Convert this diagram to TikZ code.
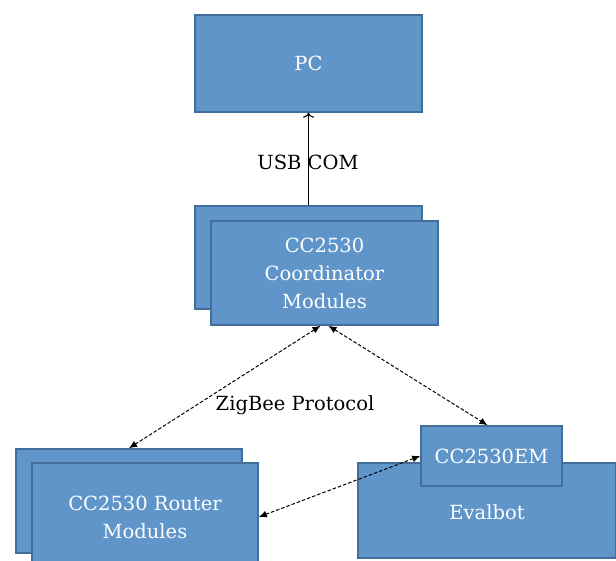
\documentclass[tikz,border=0pt]{standalone}
\usepackage{fontspec}
\setmainfont{DejaVu Serif}
\usepackage{xcolor}
\usepackage{tikz}
\usetikzlibrary{arrows.meta}

\definecolor{boxfill}{RGB}{95,149,201}
\definecolor{boxline}{RGB}{65,110,155}

\tikzset{
  modbox/.style={draw=boxline, fill=boxfill, line width=1.6pt, text=white,
    align=center, inner sep=0pt, font=\fontsize{19.5}{28}\selectfont},
  zblink/.style={{Latex[length=8pt,width=7pt]}-{Latex[length=8pt,width=7pt]},
    dash pattern=on 3.5pt off 2pt, line width=1pt},
  lbl/.style={font=\fontsize{19.5}{26}\selectfont}
}

\begin{document}
\begin{tikzpicture}[x=1pt,y=-1pt]
\useasboundingbox (0,0) rectangle (616,561);
\clip (0,0) rectangle (616,561);

    \node[modbox, minimum width=227pt, minimum height=97pt] (pc) at (308.5,63.5) {PC};

    \node[modbox, minimum width=227pt, minimum height=103pt] (cb) at (308.5,257.5) {};
    \node[modbox, minimum width=227pt, minimum height=104pt] (cf) at (324.5,273) {CC2530\\Coordinator\\Modules};

    \node[modbox, minimum width=226pt, minimum height=104pt] (rb) at (129,501) {};
    \node[modbox, minimum width=226pt, minimum height=108pt] (rf) at (145,517) {CC2530 Router\\Modules};

    \node[modbox, minimum width=258pt, minimum height=95pt, text height=22pt, text depth=4.5pt] (eb) at (487,510.5) {Evalbot};
    \node[modbox, minimum width=141pt, minimum height=60pt] (em) at (491.5,456) {CC2530EM};

    \node[lbl] (usb) at (308,162) {USB COM};
    \node[lbl] (zb) at (295,405) {ZigBee Protocol};

    % draw the arrows
    \draw[-{To[length=5pt,width=11pt]}, line width=1.1pt] (cb.north) -- (pc.south);
    \draw[zblink] ([xshift=-4pt]cf.south) -- (rb.north);
    \draw[zblink] ([xshift=4pt]cf.south) -- ([xshift=-4pt]em.north);
    \draw[zblink] (rf.east) -- (em.west);

\end{tikzpicture}
\end{document}
